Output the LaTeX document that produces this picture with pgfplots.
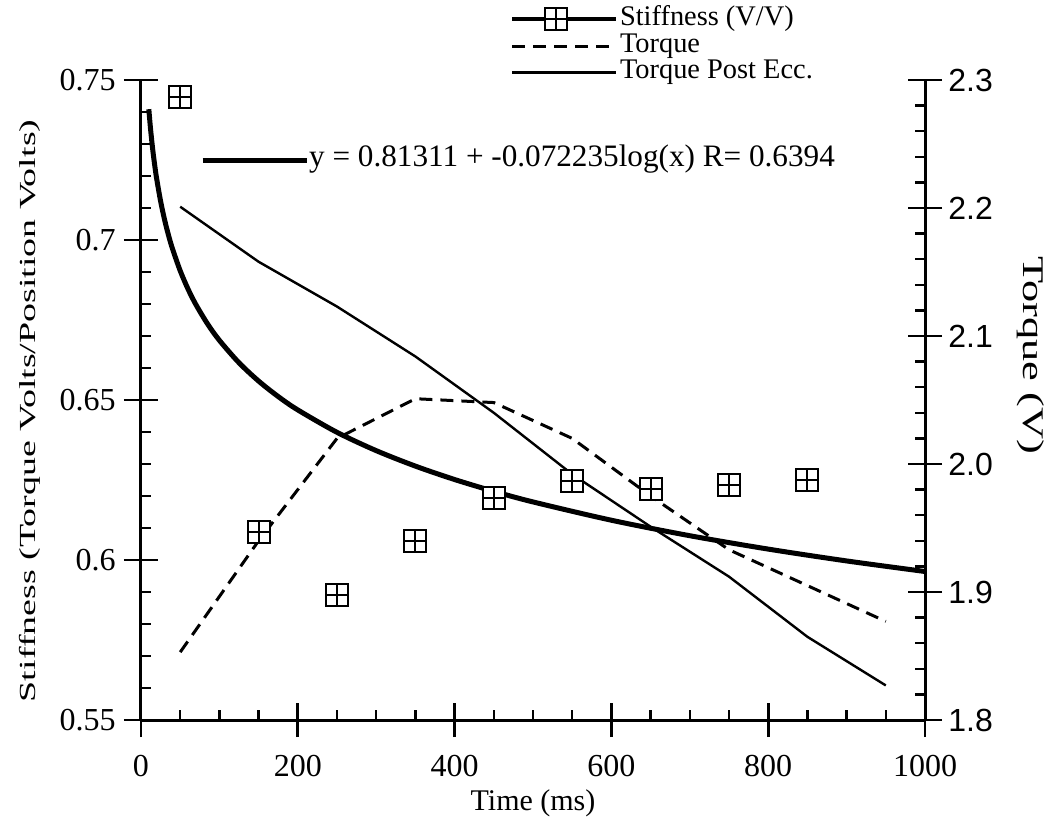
\documentclass[border=0pt]{standalone}
\usepackage{fontspec}
\setmainfont{Liberation Serif}
\setsansfont{Liberation Sans}
\usepackage{graphicx}
\usepackage{pgfplots}
\pgfplotsset{compat=1.18}

\pgfdeclareplotmark{boxplus}{%
  \pgfpathrectangle{\pgfqpoint{-\pgfplotmarksize}{-\pgfplotmarksize}}{\pgfqpoint{2\pgfplotmarksize}{2\pgfplotmarksize}}%
  \pgfusepathqfillstroke
  \pgfpathmoveto{\pgfqpoint{-\pgfplotmarksize}{0pt}}\pgfpathlineto{\pgfqpoint{\pgfplotmarksize}{0pt}}%
  \pgfpathmoveto{\pgfqpoint{0pt}{-\pgfplotmarksize}}\pgfpathlineto{\pgfqpoint{0pt}{\pgfplotmarksize}}%
  \pgfusepathqstroke}

\pgfplotstableread{
x   s
50  0.7447
150 0.6087
250 0.5890
350 0.6060
450 0.6194
550 0.6247
650 0.6222
750 0.6234
850 0.6250
}\stiff

\pgfplotstableread{
x    f
10   0.74088
12   0.73516
15   0.72816
18   0.72244
20   0.71913
25   0.71213
30   0.70641
35   0.70157
40   0.69739
50   0.69039
60   0.68467
70   0.67983
85   0.67374
100  0.66864
125  0.66164
150  0.65592
175  0.65108
200  0.64690
250  0.63990
300  0.63418
350  0.62934
400  0.62515
450  0.62146
500  0.61815
600  0.61243
700  0.60759
800  0.60341
900  0.59971
1000 0.59641
}\fit

\pgfplotstableread{
x   t
50  1.853
150 1.940
250 2.020
350 2.051
450 2.048
550 2.020
650 1.975
750 1.933
850 1.905
950 1.877
}\torque

\pgfplotstableread{
x   t
50  2.201
150 2.158
250 2.123
350 2.084
450 2.040
550 1.992
650 1.951
750 1.912
850 1.865
950 1.827
}\post

\pgfplotsset{
  common/.style={
    scale only axis, width=392pt, height=320pt,
    at={(0pt,0pt)}, anchor=south west,
    xmin=0, xmax=1000,
    major tick length=17pt, minor tick length=5pt,
    every tick/.style={black, line width=1.4pt},
    every minor tick/.style={black, line width=1.2pt},
    /pgf/number format/1000 sep={},
    /pgf/number format/assume math mode=true,
    tick label style={font=\fontsize{16}{18}\selectfont},
    legend image code/.code={\draw[mark repeat=2,mark phase=2,##1] plot coordinates {(0pt,0pt) (22pt,0pt) (52pt,0pt)};},
  },
  noarrows/.style={
    axis line style={line width=1.5pt, -},
    x axis line style={-},
    y axis line style={-},
    every outer x axis line/.append style={-},
    every outer y axis line/.append style={-},
    every inner x axis line/.append style={-},
    every inner y axis line/.append style={-},
  }
}

\begin{document}
\begin{tikzpicture}
\useasboundingbox (-70.5pt,-58pt) rectangle (453.5pt,360pt);

% right axis: torque
\begin{axis}[common,
  ymin=1.8, ymax=2.3,
  axis x line=none, axis y line=right,
  noarrows,
  tick align=center,
  ytick={1.8,1.9,2.0,2.1,2.2,2.3},
  minor y tick num=4,
  minor y tick style={xshift=-2.5pt},
  yticklabel style={font=\sffamily\fontsize{16}{18}\selectfont, inner sep=0pt, anchor=west, xshift=3pt,
    /pgf/number format/fixed, /pgf/number format/fixed zerofill, /pgf/number format/precision=1},
  ylabel={\scalebox{1.48}[1]{Torque (V)}},
  every axis y label/.style={at={(axis description cs:1.135,0.57)}, rotate=-90, anchor=center, font=\fontsize{15}{17}\selectfont},
  legend style={at={(axis description cs:0.4707,1.114)}, anchor=north west, draw=none, fill=none,
    inner sep=0pt, row sep=1.3pt, font=\fontsize{14.2}{16}\selectfont,
    nodes={inner sep=0pt, inner xsep=0.8pt, text height=9pt, text depth=3pt}},
  legend cell align=left,
]
\addlegendimage{black, line width=2pt, mark=boxplus, mark size=5.5pt, mark options={line width=1pt, fill=white, solid}}
\addlegendentry{Stiffness (V/V)}
\addplot[black, line width=1.5pt, dash pattern=on 6.5pt off 4pt] table[x=x, y=t] {\torque};
\addlegendentry{Torque}
\addplot[black, line width=1.2pt] table[x=x, y=t] {\post};
\addlegendentry{Torque Post Ecc.}
\end{axis}

% left axis: stiffness
\begin{axis}[common,
  ymin=0.55, ymax=0.75,
  axis x line=bottom, axis y line=left,
  noarrows,
  tick align=center,
  xtick={0,200,400,600,800,1000},
  minor x tick num=3,
  ytick={0.55,0.6,0.65,0.7,0.75},
  minor y tick num=4,
  minor x tick style={yshift=2.5pt},
  minor y tick style={xshift=2.5pt},
  yticklabel style={inner sep=0pt, anchor=east, xshift=-4pt,
    /pgf/number format/fixed, /pgf/number format/precision=2},
  xticklabel style={inner sep=0pt, anchor=north, yshift=-9pt},
  xlabel={Time (ms)},
  every axis x label/.style={at={(axis description cs:0.5,-0.13)}, anchor=center, font=\fontsize{15}{17}\selectfont},
  ylabel={\scalebox{1.65}[1]{Stiffness (Torque Volts/Position Volts)}},
  every axis y label/.style={at={(axis description cs:-0.1416,0.483)}, rotate=90, anchor=center, font=\fontsize{11.5}{13}\selectfont},
  legend style={at={(axis description cs:0.075,0.875)}, anchor=west, draw=none, fill=none,
    inner sep=0pt, font=\fontsize{15.6}{17}\selectfont,
    nodes={inner sep=0pt, text height=9pt, text depth=3pt}},
  legend cell align=left,
]
\addplot[black, line width=2.5pt, smooth] table[x=x, y=f] {\fit};
\addlegendentry{y = 0.81311 + -0.072235log(x) R= 0.6394}
\addplot[only marks, mark=boxplus, mark size=5.5pt, mark options={black, line width=1pt, fill=white}, forget plot] table[x=x, y=s] {\stiff};
\end{axis}
\end{tikzpicture}
\end{document}
